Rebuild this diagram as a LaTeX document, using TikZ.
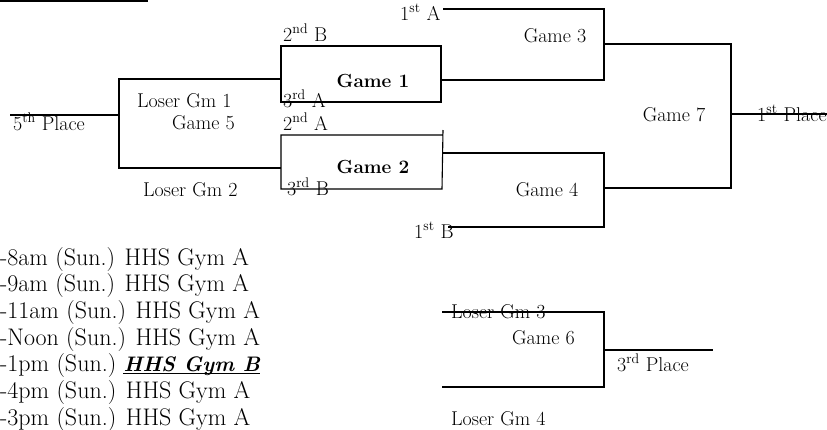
\documentclass[tikz,border=0pt]{standalone}
\begin{document}
\begin{tikzpicture}[x=1pt,y=-1pt,
  line/.style={line width=1.1pt},
  lbl/.style={anchor=base west,inner sep=0pt,font=\fontsize{20}{24}\selectfont},
  game/.style={anchor=base,inner sep=0pt,font=\fontsize{20}{24}\selectfont},
  sched/.style={anchor=base west,inner sep=0pt,font=\fontsize{24}{29}\selectfont}]
\useasboundingbox (0,0) rectangle (827,429);

% title underline
\draw[line width=2.6pt] (0,1) -- (148,1);

% bracket corner coordinates
\coordinate (g1tl) at (281,46);  \coordinate (g1br) at (441,102);
\coordinate (g3a) at (443,9);    \coordinate (g3b) at (604,9);
\coordinate (g3c) at (604,80);   \coordinate (g3d) at (441,80);
\coordinate (g3o) at (604,44);
\coordinate (g4a) at (443,153);  \coordinate (g4b) at (604,153);
\coordinate (g4c) at (604,227);  \coordinate (g4d) at (448,227);
\coordinate (g4o) at (604,188);
\coordinate (g7a) at (731,44);   \coordinate (g7b) at (731,188);
\coordinate (g7o) at (731,114);  \coordinate (p1) at (827,114);
\coordinate (g5a) at (281,79);   \coordinate (g5b) at (119,79);
\coordinate (g5c) at (119,168);  \coordinate (g5d) at (281,168);
\coordinate (g5o) at (119,115);  \coordinate (p5) at (10,115);
\coordinate (g6a) at (442,312);  \coordinate (g6b) at (604,312);
\coordinate (g6c) at (604,387);  \coordinate (g6d) at (442,387);
\coordinate (g6o) at (604,350);  \coordinate (p3) at (713,350);

% game 1 and game 2 boxes
\draw[line] (g1tl) rectangle (g1br);
\draw[line] (443,130) -- (442,189) -- (281,189) -- (281,135) -- (443,135);

% game 3
\draw[line] (g3a) -- (g3b) -- (g3c) -- (g3d);
% game 4
\draw[line] (g4a) -- (g4b) -- (g4c) -- (g4d);
% game 7
\draw[line] (g3o) -- (g7a) -- (g7b) -- (g4o);
\draw[line] (g7o) -- (p1);
% game 5
\draw[line] (g5a) -- (g5b) -- (g5c) -- (g5d);
\draw[line] (g5o) -- (p5);
% game 6
\draw[line] (g6a) -- (g6b) -- (g6c) -- (g6d);
\draw[line] (g6o) -- (p3);

% labels
\node[lbl] (l2b) at (283,41) {2\textsuperscript{nd} B};
\node[lbl] (l1a) at (400,20) {1\textsuperscript{st} A};
\node[game,font=\fontsize{19}{24}\selectfont\bfseries] (tg1) at (373,87) {Game 1};
\node[lbl] (l3a) at (283,107) {3\textsuperscript{rd} A};
\node[lbl] (l2a) at (283,130) {2\textsuperscript{nd} A};
\node[game,font=\fontsize{19}{24}\selectfont\bfseries] (tg2) at (373,173) {Game 2};
\node[lbl] (l3b) at (287,195) {3\textsuperscript{rd} B};
\node[lbl] (l1b) at (414,238) {1\textsuperscript{st} B};
\node[game] (tg3) at (555,42) {Game 3};
\node[game] (tg4) at (547,196) {Game 4};
\node[game] (tg7) at (674,121) {Game 7};
\node[lbl] (tp1) at (757,121) {1\textsuperscript{st} Place};
\node[lbl] (tp5) at (13,130) {5\textsuperscript{th} Place};
\node[lbl] (lg1) at (137,107) {Loser Gm 1};
\node[lbl] (tg5) at (172,129) {Game 5};
\node[lbl] (lg2) at (143,196) {Loser Gm 2};
\node[lbl] (lg3) at (451,318) {Loser Gm 3};
\node[lbl] (tg6) at (512,344) {Game 6};
\node[lbl] (tp3) at (617,371.5) {3\textsuperscript{rd} Place};
\node[lbl] (lg4) at (451,425) {Loser Gm 4};

% schedule
\node[sched] (s1) at (0,265) {-8am (Sun.) HHS Gym A};
\node[sched] (s2) at (0,291.7) {-9am (Sun.) HHS Gym A};
\node[sched] (s3) at (0,318.3) {-11am (Sun.) HHS Gym A};
\node[sched] (s4) at (0,345) {-Noon (Sun.) HHS Gym A};
\node[sched] (s5) at (0,371.7) {-1pm (Sun.)};
\node[sched,font=\fontsize{21}{29}\selectfont\bfseries\itshape] (s5b) at ([xshift=7pt]s5.base east) {HHS Gym B};
\node[sched] (s6) at (0,398.3) {-4pm (Sun.) HHS Gym A};
\node[sched] (s7) at (0,425) {-3pm (Sun.) HHS Gym A};
\draw[line width=1.2pt] ([yshift=-2pt]s5b.base west) -- ([yshift=-2pt]s5b.base east);
\end{tikzpicture}
\end{document}
